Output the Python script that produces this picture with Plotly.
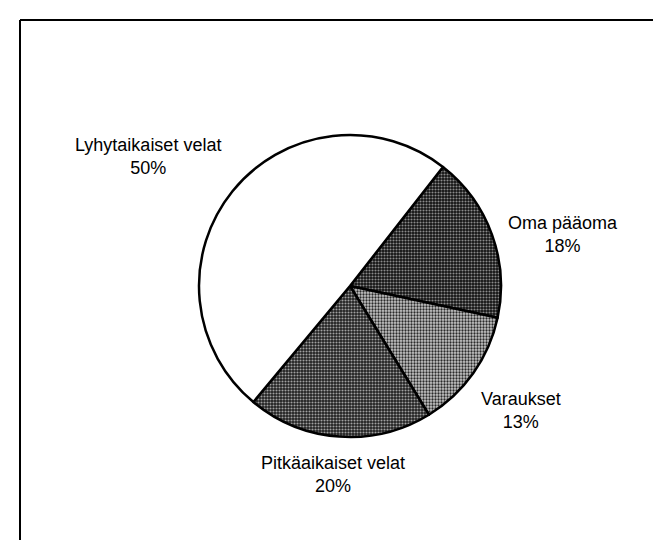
import plotly.graph_objects as go

labels = ["Oma pääoma", "Varaukset", "Pitkäaikaiset velat", "Lyhytaikaiset velat"]
values = [18, 13, 20, 50]
percent_text = ["18%", "13%", "20%", "50%"]

W, H = 661, 540
cx, cy, r = 342, 278, 151

fig = go.Figure()
fig.add_trace(go.Pie(
    labels=labels,
    values=values,
    sort=False,
    direction="clockwise",
    rotation=38,
    textinfo="none",
    hoverinfo="label+percent",
    showlegend=False,
    marker=dict(
        colors=["#2a2a2a", "#9a9a9a", "#3c3c3c", "#ffffff"],
        line=dict(color="black", width=2.5),
        pattern=dict(
            shape=[".", ".", ".", ""],
            fgcolor=["#8a8a8a", "#2a2a2a", "#a0a0a0", "#ffffff"],
            bgcolor=["#121212", "#c8c8c8", "#202020", "#ffffff"],
            size=3,
            solidity=[0.4, 0.45, 0.4, 0.4],
            fillmode="replace",
        ),
    ),
    domain=dict(x=[(cx - r) / W, (cx + r) / W], y=[(H - cy - r) / H, (H - cy + r) / H]),
))

label_pos = {
    "Lyhytaikaiset velat": (140, 148),
    "Oma pääoma": (555, 226),
    "Varaukset": (513, 402),
    "Pitkäaikaiset velat": (325, 466),
}
for lab, pct in zip(labels, percent_text):
    x, y = label_pos[lab]
    fig.add_annotation(
        x=x / W, y=1 - y / H, xref="paper", yref="paper",
        text=f"{lab}<br>{pct}", showarrow=False,
        xanchor="center", yanchor="middle", align="center",
        font=dict(family="Liberation Sans, Arial, sans-serif", size=18, color="#000000"),
    )

# frame lines (top and left)
fig.add_shape(type="line", xref="paper", yref="paper",
              x0=12 / W, y0=1 - 12 / H, x1=1.0, y1=1 - 12 / H,
              line=dict(color="black", width=2))
fig.add_shape(type="line", xref="paper", yref="paper",
              x0=12 / W, y0=1 - 12 / H, x1=12 / W, y1=0,
              line=dict(color="black", width=2))

fig.update_layout(
    width=W, height=H, autosize=False,
    margin=dict(l=0, r=0, t=0, b=0),
    paper_bgcolor="white", plot_bgcolor="white",
)
fig.write_html("out.html")
